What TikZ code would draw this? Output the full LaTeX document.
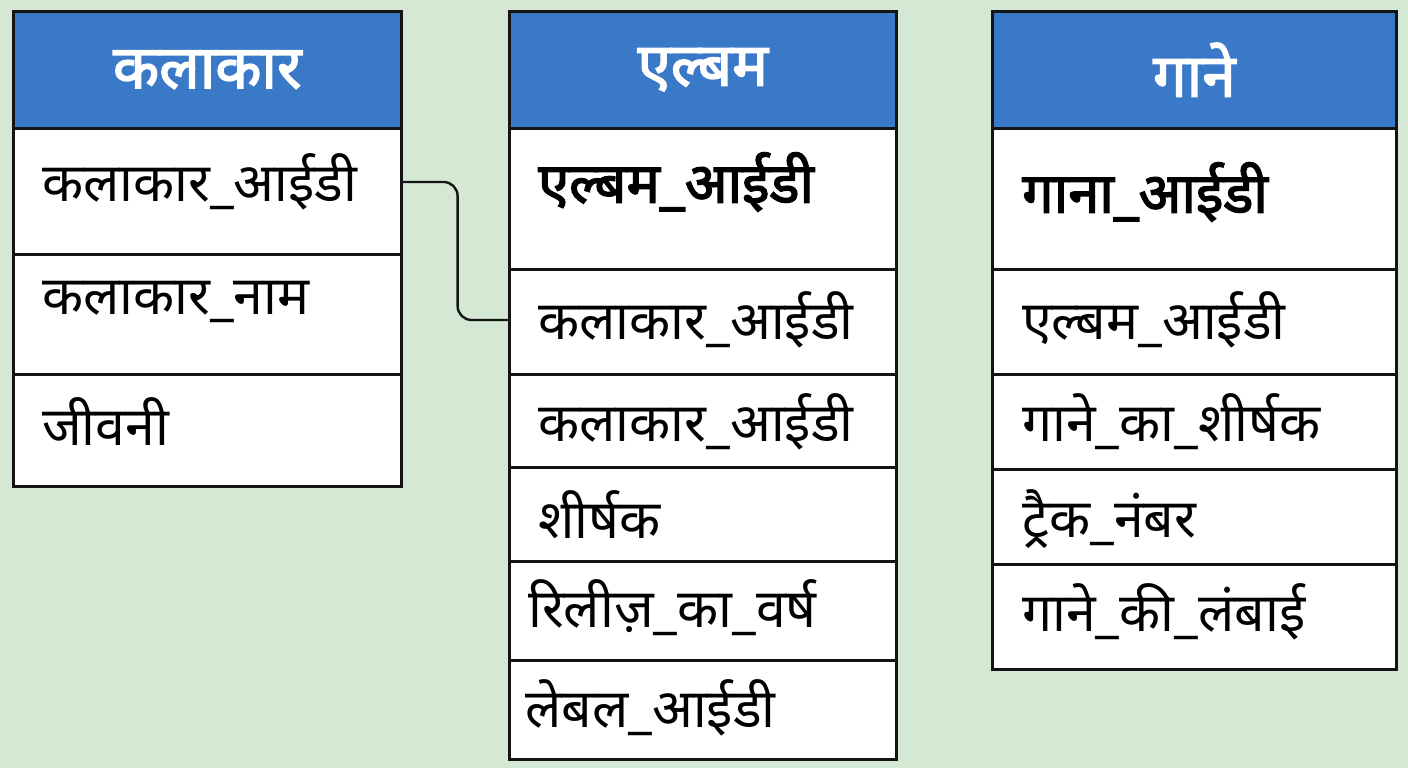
\documentclass[tikz,border=0pt]{standalone}
\usepackage{fontspec}
\setmainfont[Script=Devanagari, AutoFakeBold=2.5]{Noto Sans}
\usetikzlibrary{positioning}

\definecolor{erd_bg}{RGB}{213, 232, 212}
\definecolor{erd_head}{RGB}{58, 120, 200}
\definecolor{erd_line}{RGB}{20, 20, 20}

\tikzset{
  kopf/.style={draw=erd_line, line width=2.6pt, fill=erd_head, anchor=north west,
    text=white, font=\fontsize{60}{68}\selectfont\bfseries},
  zelle/.style={draw=erd_line, line width=2.6pt, fill=white, anchor=north west},
  feld/.style={anchor=west, inner sep=0pt, font=\fontsize{53.5}{60}\selectfont},
  schluessel/.style={feld, font=\fontsize{56}{62}\selectfont\bfseries},
  verbindung/.style={draw=erd_line, line width=2.4pt, rounded corners=14pt}
}

\begin{document}
\begin{tikzpicture}[x=1pt, y=-1pt]
  % Hintergrund
  \fill[erd_bg] (0,0) rectangle (1408,768);
  \useasboundingbox (0,0) rectangle (1408,768);

  % Tabelle कलाकार
  \foreach \oben/\unten/\ty/\txt [count=\i] in {
      127/253/182/कलाकार\_आईडी,
      253/373/302/कलाकार\_नाम,
      373/485/422/जीवनी} {
    \node[zelle, minimum width=388pt, minimum height={(\unten-\oben)*1pt}] (k\i) at (12,\oben) {};
    \node[feld] (k\i t) at (42,\ty) {\txt};
  }
  \node[kopf, minimum width=388pt, minimum height=117pt] (kh) at (12,10) {कलाकार};

  % Tabelle एल्बम
  \foreach \oben/\unten/\tx/\ty/\txt/\stil [count=\i] in {
      127/268/538/182/एल्बम\_आईडी/schluessel,
      268/373/538/320/कलाकार\_आईडी/feld,
      373/466/538/422/कलाकार\_आईडी/feld,
      466/560/538/515/शीर्षक/feld,
      560/659/528/608/रिलीज़\_का\_वर्ष/feld,
      659/758/525/708/लेबल\_आईडी/feld} {
    \node[zelle, minimum width=387pt, minimum height={(\unten-\oben)*1pt}] (a\i) at (508,\oben) {};
    \node[\stil] (a\i t) at (\tx,\ty) {\txt};
  }
  \node[kopf, minimum width=387pt, minimum height=117pt] (ah) at (508,10) {एल्बम};

  % Tabelle गाने
  \foreach \oben/\unten/\ty/\txt/\stil [count=\i] in {
      127/268/192/गाना\_आईडी/schluessel,
      268/373/320/एल्बम\_आईडी/feld,
      373/468/422/गाने\_का\_शीर्षक/feld,
      468/563/519/ट्रैक\_नंबर/feld,
      563/668/612/गाने\_की\_लंबाई/feld} {
    \node[zelle, minimum width=404pt, minimum height={(\unten-\oben)*1pt}] (g\i) at (991,\oben) {};
    \node[\stil] (g\i t) at (1022,\ty) {\txt};
  }
  \node[kopf, minimum width=404pt, minimum height=117pt] (gh) at (991,10) {गाने};

  % Beziehung
  \draw[verbindung] (k1t -| k1.east) -- ++(55,0) |- (a2t -| a2.west);
\end{tikzpicture}
\end{document}
